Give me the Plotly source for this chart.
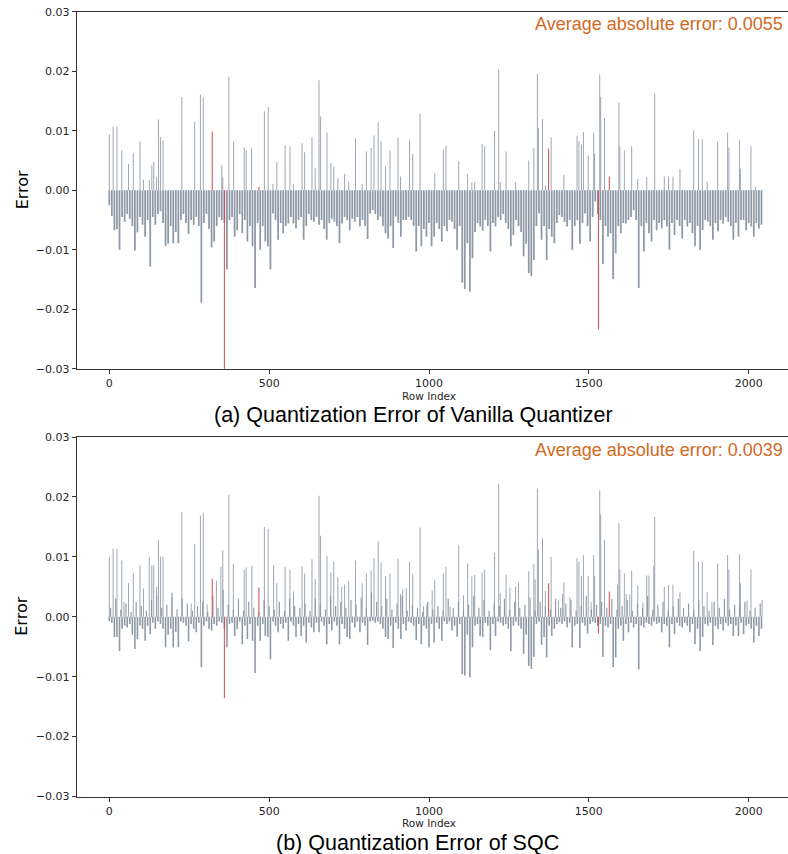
import numpy as np
import plotly.graph_objects as go

# ---------------- data ----------------
GRID_STEP = 8  # base bars every 8 rows

# (a) Vanilla quantizer: dense negative base, one value every 8 rows (0..2040)
vanilla_base = [
    -0.0025, -0.0043, -0.0067, -0.0065, -0.0100, -0.0045, -0.0053, -0.0040, -0.0048, -0.0060, -0.0101, -0.0071, -0.0045, -0.0058, -0.0078, -0.0050,
    -0.0128, -0.0045, -0.0058, -0.0040, -0.0035, -0.0055, -0.0094, -0.0090, -0.0060, -0.0089, -0.0070, -0.0089, -0.0050, -0.0040, -0.0055, -0.0073,
    -0.0050, -0.0058, -0.0045, -0.0060, -0.0189, -0.0055, -0.0040, -0.0065, -0.0096, -0.0086, -0.0060, -0.0045, -0.0050, -0.0055, -0.0133, -0.0050,
    -0.0045, -0.0078, -0.0067, -0.0040, -0.0072, -0.0050, -0.0086, -0.0060, -0.0094, -0.0164, -0.0055, -0.0100, -0.0060, -0.0086, -0.0094, -0.0133,
    -0.0039, -0.0050, -0.0083, -0.0055, -0.0072, -0.0060, -0.0056, -0.0045, -0.0056, -0.0064, -0.0050, -0.0045, -0.0083, -0.0060, -0.0040, -0.0050,
    -0.0053, -0.0045, -0.0058, -0.0050, -0.0065, -0.0083, -0.0055, -0.0048, -0.0053, -0.0060, -0.0089, -0.0056, -0.0045, -0.0050, -0.0067, -0.0048,
    -0.0053, -0.0045, -0.0061, -0.0050, -0.0060, -0.0082, -0.0039, -0.0033, -0.0040, -0.0050, -0.0044, -0.0060, -0.0072, -0.0081, -0.0060, -0.0097,
    -0.0044, -0.0055, -0.0078, -0.0050, -0.0050, -0.0045, -0.0050, -0.0060, -0.0103, -0.0060, -0.0094, -0.0065, -0.0078, -0.0055, -0.0094, -0.0078,
    -0.0055, -0.0065, -0.0086, -0.0060, -0.0069, -0.0050, -0.0053, -0.0065, -0.0100, -0.0060, -0.0155, -0.0166, -0.0089, -0.0170, -0.0114, -0.0070,
    -0.0055, -0.0061, -0.0068, -0.0050, -0.0060, -0.0103, -0.0055, -0.0061, -0.0045, -0.0050, -0.0040, -0.0055, -0.0065, -0.0094, -0.0075, -0.0050,
    -0.0060, -0.0070, -0.0111, -0.0090, -0.0139, -0.0144, -0.0117, -0.0060, -0.0039, -0.0083, -0.0060, -0.0117, -0.0065, -0.0078, -0.0089, -0.0055,
    -0.0042, -0.0045, -0.0053, -0.0061, -0.0050, -0.0100, -0.0060, -0.0050, -0.0090, -0.0055, -0.0039, -0.0060, -0.0086, -0.0045, -0.0019, -0.0040,
    -0.0050, -0.0124, -0.0060, -0.0078, -0.0072, -0.0149, -0.0106, -0.0060, -0.0072, -0.0055, -0.0056, -0.0050, -0.0045, -0.0033, -0.0050, -0.0164,
    -0.0060, -0.0103, -0.0055, -0.0072, -0.0086, -0.0050, -0.0067, -0.0055, -0.0064, -0.0050, -0.0061, -0.0100, -0.0055, -0.0075, -0.0050, -0.0060,
    -0.0081, -0.0050, -0.0061, -0.0055, -0.0072, -0.0094, -0.0060, -0.0100, -0.0067, -0.0050, -0.0053, -0.0060, -0.0083, -0.0055, -0.0069, -0.0050,
    -0.0056, -0.0045, -0.0053, -0.0060, -0.0083, -0.0055, -0.0078, -0.0050, -0.0050, -0.0067, -0.0055, -0.0061, -0.0078, -0.0055, -0.0064, -0.0058,
]

vanilla_spike_idx = [
    0, 12, 24, 39, 60, 75, 96, 107, 125, 133, 139, 148, 154, 160, 168, 227, 267, 285, 294, 352, 355, 374, 389, 422, 428, 445,
    485, 497, 512, 524, 550, 565, 576, 603, 611, 634, 644, 656, 661, 681, 693, 702, 715, 736, 749, 770, 791, 804, 819, 828,
    841, 850, 864, 878, 903, 911, 939, 949, 972, 1018, 1045, 1053, 1093, 1121, 1134, 1143, 1166, 1174, 1205, 1218, 1223, 1241,
    1271, 1312, 1328, 1339, 1342, 1355, 1364, 1382, 1422, 1463, 1469, 1477, 1483, 1498, 1515, 1518, 1534, 1537, 1549, 1594,
    1597, 1611, 1634, 1653, 1681, 1706, 1736, 1749, 1763, 1785, 1828, 1843, 1855, 1870, 1903, 1934, 1938, 1971, 1974, 2007, 2021,
]
vanilla_spike_val = [
    0.0094, 0.0107, 0.0107, 0.0067, 0.0044, 0.0063, 0.0082, 0.0018, 0.0017, 0.0043, 0.0048, 0.0022, 0.0119, 0.0089, 0.0084, 0.0157, 0.0115, 0.0161, 0.0156, 0.0042, 0.0022, 0.0191, 0.0082, 0.0072, 0.0067, 0.0071,
    0.0133, 0.0140, 0.0011, 0.0047, 0.0076, 0.0074, 0.0011, 0.0079, 0.0064, 0.0089, 0.0037, 0.0185, 0.0124, 0.0097, 0.0046, 0.0040, 0.0020, 0.0028, 0.0014, 0.0087, 0.0010, 0.0065, 0.0071, 0.0092,
    0.0114, 0.0083, 0.0040, 0.0067, 0.0089, 0.0023, 0.0085, 0.0061, 0.0129, 0.0029, 0.0068, 0.0075, 0.0049, 0.0028, 0.0014, 0.0014, 0.0078, 0.0074, 0.0100, 0.0204, 0.0014, 0.0065,
    0.0014, 0.0050, 0.0071, 0.0195, 0.0105, 0.0120, 0.0008, 0.0089, 0.0026, 0.0092, 0.0083, 0.0077, 0.0098, 0.0059, 0.0097, 0.0061, 0.0194, 0.0157, 0.0121, 0.0148,
    0.0074, 0.0067, 0.0074, 0.0019, 0.0022, 0.0163, 0.0023, 0.0023, 0.0023, 0.0036, 0.0101, 0.0086, 0.0086, 0.0014, 0.0082, 0.0097, 0.0072, 0.0085, 0.0036, 0.0074, 0.0006,
]

highlight_idx = [322, 360, 468, 1374, 1530, 1564]
vanilla_highlight_val = [0.0099, -0.0360, 0.0006, 0.0070, -0.0234, 0.0023]

# (b) SQC: small negative base every 8 rows, small positives every 16 rows (from row 4), spikes
sqc_base = [
    -0.0007, -0.0010, -0.0034, -0.0034, -0.0057, -0.0020, -0.0015, -0.0018, -0.0012, -0.0030, -0.0054, -0.0037, -0.0015, -0.0020, -0.0040, -0.0015,
    -0.0029, -0.0010, -0.0020, -0.0008, -0.0012, -0.0020, -0.0051, -0.0030, -0.0020, -0.0051, -0.0025, -0.0051, -0.0008, -0.0010, -0.0015, -0.0041,
    -0.0012, -0.0020, -0.0026, -0.0010, -0.0084, -0.0015, -0.0008, -0.0020, -0.0023, -0.0012, -0.0015, -0.0008, -0.0010, -0.0020, -0.0051, -0.0012,
    -0.0010, -0.0032, -0.0021, -0.0008, -0.0046, -0.0015, -0.0037, -0.0012, -0.0040, -0.0094, -0.0015, -0.0040, -0.0012, -0.0032, -0.0034, -0.0071,
    -0.0008, -0.0015, -0.0026, -0.0012, -0.0020, -0.0010, -0.0040, -0.0008, -0.0015, -0.0034, -0.0012, -0.0032, -0.0015, -0.0043, -0.0010, -0.0018,
    -0.0026, -0.0010, -0.0026, -0.0008, -0.0015, -0.0046, -0.0012, -0.0023, -0.0008, -0.0015, -0.0046, -0.0012, -0.0020, -0.0034, -0.0037, -0.0010,
    -0.0018, -0.0008, -0.0026, -0.0010, -0.0015, -0.0047, -0.0008, -0.0007, -0.0010, -0.0008, -0.0012, -0.0020, -0.0034, -0.0037, -0.0015, -0.0052,
    -0.0010, -0.0020, -0.0037, -0.0012, -0.0023, -0.0008, -0.0010, -0.0015, -0.0039, -0.0012, -0.0046, -0.0015, -0.0020, -0.0051, -0.0012, -0.0043,
    -0.0010, -0.0020, -0.0040, -0.0008, -0.0012, -0.0008, -0.0023, -0.0015, -0.0034, -0.0012, -0.0096, -0.0098, -0.0030, -0.0101, -0.0051, -0.0015,
    -0.0012, -0.0032, -0.0034, -0.0010, -0.0015, -0.0056, -0.0012, -0.0032, -0.0008, -0.0010, -0.0015, -0.0012, -0.0020, -0.0057, -0.0015, -0.0008,
    -0.0015, -0.0020, -0.0062, -0.0030, -0.0082, -0.0087, -0.0067, -0.0012, -0.0008, -0.0047, -0.0034, -0.0068, -0.0015, -0.0032, -0.0020, -0.0012,
    -0.0009, -0.0012, -0.0008, -0.0018, -0.0010, -0.0051, -0.0015, -0.0012, -0.0052, -0.0010, -0.0015, -0.0028, -0.0012, -0.0008, -0.0010, -0.0015,
    -0.0012, -0.0067, -0.0015, -0.0018, -0.0012, -0.0084, -0.0068, -0.0020, -0.0015, -0.0040, -0.0012, -0.0026, -0.0010, -0.0018, -0.0012, -0.0088,
    -0.0015, -0.0018, -0.0010, -0.0012, -0.0015, -0.0008, -0.0012, -0.0010, -0.0026, -0.0012, -0.0015, -0.0051, -0.0012, -0.0029, -0.0010, -0.0015,
    -0.0018, -0.0010, -0.0015, -0.0026, -0.0012, -0.0046, -0.0020, -0.0057, -0.0034, -0.0012, -0.0015, -0.0010, -0.0047, -0.0015, -0.0021, -0.0012,
    -0.0023, -0.0010, -0.0015, -0.0012, -0.0032, -0.0015, -0.0032, -0.0010, -0.0029, -0.0015, -0.0012, -0.0020, -0.0043, -0.0015, -0.0032, -0.0020,
]

SMALL_STEP = 16
SMALL_OFFSET = 4
sqc_small_pos = [
    0.0015, 0.0030, 0.0012, 0.0022, 0.0008, 0.0025, 0.0018, 0.0010, 0.0028, 0.0035, 0.0015, 0.0020, 0.0040, 0.0012, 0.0030, 0.0022,
    0.0010, 0.0018, 0.0025, 0.0008, 0.0035, 0.0015, 0.0045, 0.0020, 0.0012, 0.0030, 0.0010, 0.0025, 0.0015, 0.0008, 0.0028, 0.0018,
    0.0012, 0.0025, 0.0010, 0.0030, 0.0018, 0.0015, 0.0022, 0.0010, 0.0030, 0.0020, 0.0012, 0.0035, 0.0018, 0.0025, 0.0015, 0.0028,
    0.0020, 0.0032, 0.0015, 0.0040, 0.0025, 0.0018, 0.0030, 0.0012, 0.0022, 0.0035, 0.0010, 0.0020, 0.0015, 0.0008, 0.0025, 0.0012,
    0.0018, 0.0010, 0.0030, 0.0015, 0.0025, 0.0012, 0.0020, 0.0035, 0.0015, 0.0028, 0.0010, 0.0022, 0.0018, 0.0030, 0.0012, 0.0025,
    0.0015, 0.0020, 0.0032, 0.0010, 0.0025, 0.0018, 0.0012, 0.0030, 0.0015, 0.0022, 0.0028, 0.0010, 0.0018, 0.0035, 0.0012, 0.0020,
    0.0025, 0.0015, 0.0030, 0.0012, 0.0018, 0.0028, 0.0010, 0.0022, 0.0015, 0.0035, 0.0012, 0.0020, 0.0025, 0.0010, 0.0018, 0.0030,
    0.0015, 0.0022, 0.0012, 0.0028, 0.0018, 0.0010, 0.0025, 0.0015, 0.0030, 0.0012, 0.0020, 0.0018, 0.0025, 0.0010, 0.0015, 0.0022,
]

sqc_spike_idx = [
    0, 12, 24, 39, 46, 60, 75, 96, 107, 125, 133, 139, 148, 154, 160, 168, 196, 227, 256, 267, 285, 294, 306, 335, 349, 355,
    374, 388, 422, 428, 446, 485, 497, 514, 524, 550, 565, 576, 603, 611, 634, 644, 656, 661, 681, 693, 702, 715, 727, 736,
    749, 770, 791, 804, 819, 828, 841, 850, 864, 878, 903, 911, 918, 929, 939, 949, 972, 983, 993, 1010, 1018, 1045, 1053,
    1066, 1093, 1108, 1121, 1134, 1143, 1166, 1174, 1205, 1218, 1223, 1241, 1253, 1271, 1280, 1312, 1328, 1332, 1339, 1342,
    1355, 1364, 1382, 1405, 1418, 1422, 1441, 1463, 1469, 1477, 1483, 1498, 1507, 1515, 1518, 1534, 1537, 1549, 1590, 1594,
    1597, 1611, 1617, 1628, 1634, 1653, 1669, 1681, 1688, 1703, 1706, 1736, 1749, 1763, 1785, 1828, 1843, 1855, 1870, 1885,
    1903, 1934, 1938, 1971, 1974, 1995, 2007, 2042,
]
sqc_spike_val = [
    0.0100, 0.0114, 0.0114, 0.0094, 0.0025, 0.0056, 0.0073, 0.0086, 0.0047, 0.0100, 0.0086, 0.0086, 0.0050, 0.0128, 0.0100, 0.0100, 0.0032, 0.0175, 0.0022, 0.0121, 0.0169, 0.0174, 0.0021, 0.0060, 0.0083, 0.0111,
    0.0203, 0.0088, 0.0078, 0.0082, 0.0085, 0.0150, 0.0147, 0.0086, 0.0056, 0.0083, 0.0079, 0.0042, 0.0084, 0.0072, 0.0096, 0.0063, 0.0202, 0.0135, 0.0101, 0.0074, 0.0092, 0.0066, 0.0050, 0.0054,
    0.0060, 0.0094, 0.0056, 0.0072, 0.0077, 0.0098, 0.0126, 0.0091, 0.0068, 0.0072, 0.0097, 0.0038, 0.0046, 0.0047, 0.0092, 0.0071, 0.0149, 0.0018, 0.0020, 0.0044, 0.0062, 0.0072, 0.0083,
    0.0017, 0.0119, 0.0036, 0.0089, 0.0067, 0.0070, 0.0074, 0.0079, 0.0107, 0.0222, 0.0039, 0.0070, 0.0049, 0.0050, 0.0057, 0.0076, 0.0088, 0.0062, 0.0214, 0.0112,
    0.0131, 0.0043, 0.0100, 0.0027, 0.0038, 0.0058, 0.0032, 0.0098, 0.0092, 0.0068, 0.0103, 0.0068, 0.0024, 0.0103, 0.0068, 0.0211, 0.0171, 0.0129, 0.0054, 0.0156,
    0.0079, 0.0072, 0.0038, 0.0037, 0.0077, 0.0052, 0.0024, 0.0069, 0.0069, 0.0085, 0.0167, 0.0050, 0.0053, 0.0054, 0.0041, 0.0110, 0.0092, 0.0092, 0.0041, 0.0024,
    0.0089, 0.0103, 0.0079, 0.0104, 0.0056, 0.0027, 0.0079, 0.0028,
]
sqc_highlight_val = [0.0064, -0.0136, 0.0049, 0.0056, -0.0028, 0.0042]

titles = ["(a) Quantization Error of Vanilla Quantizer", "(b) Quantization Error of SQC"]
avg_labels = ["Average absolute error: 0.0055", "Average absolute error: 0.0039"]
x_ticks = [0, 500, 1000, 1500, 2000]
y_ticks = [-0.03, -0.02, -0.01, 0.0, 0.01, 0.02, 0.03]

# ---------------- figure ----------------
W, H = 788, 854
BAR_COL = "rgba(132,145,160,0.93)"
SPIKE_COL = "rgba(140,151,165,0.88)"
RED_COL = "rgba(214,70,70,0.95)"

base_x = np.arange(len(vanilla_base)) * GRID_STEP
small_x = np.arange(len(sqc_small_pos)) * SMALL_STEP + SMALL_OFFSET

fig = go.Figure()

def add_bars(xs, ys, col, wid, ax):
    fig.add_trace(go.Bar(x=list(xs), y=list(ys), width=wid,
                         marker=dict(color=col, line=dict(width=0)),
                         xaxis="x" + ax, yaxis="y" + ax, hoverinfo="skip",
                         showlegend=False))

add_bars(base_x, vanilla_base, BAR_COL, 5.5, "")
add_bars(vanilla_spike_idx, vanilla_spike_val, SPIKE_COL, 3.0, "")
add_bars(highlight_idx, vanilla_highlight_val, RED_COL, 3.2, "")

add_bars(base_x, sqc_base, BAR_COL, 5.0, "2")
add_bars(small_x, sqc_small_pos, BAR_COL, 3.6, "2")
add_bars(sqc_spike_idx, sqc_spike_val, SPIKE_COL, 3.0, "2")
add_bars(highlight_idx, sqc_highlight_val, RED_COL, 3.2, "2")

# geometry in pixels
x0_px, px_per_idx, zero_idx_px = 76.7, 0.3197, 109.3
x_left = (x0_px - zero_idx_px) / px_per_idx
x_right = (W - zero_idx_px) / px_per_idx
panels = [(11.8, 368.8), (437.0, 796.5)]

def py(px):
    return 1 - px / H

axis_common = dict(showline=True, linecolor="#333333", linewidth=1, ticks="outside",
                   ticklen=4, tickwidth=1, tickcolor="#333333", showgrid=False, zeroline=False,
                   automargin=False,
                   tickfont=dict(family="DejaVu Sans", size=11, color="#262626"))

layout = dict(width=W, height=H, margin=dict(l=0, r=0, t=0, b=0, pad=0, autoexpand=False),
              paper_bgcolor="white", plot_bgcolor="white", barmode="overlay",
              bargap=0.2, showlegend=False)

for i, (top, bot) in enumerate(panels):
    sfx = "" if i == 0 else "2"
    layout["xaxis" + sfx] = dict(axis_common, domain=[x0_px / W, 1.0], range=[x_left, x_right],
                                 tickvals=x_ticks, mirror=True, anchor="y" + sfx)
    layout["yaxis" + sfx] = dict(axis_common, domain=[py(bot), py(top)], range=[-0.03, 0.03],
                                 tickvals=y_ticks, tickformat=".2f", anchor="x" + sfx)

fig.update_layout(**layout)

ann = []
for i, (top, bot) in enumerate(panels):
    mid = (top + bot) / 2
    ann.append(dict(text="Error", x=22 / W, y=py(mid), xref="paper", yref="paper",
                    textangle=-90, showarrow=False, xanchor="center", yanchor="middle",
                    font=dict(family="DejaVu Sans", size=16, color="black")))
    ann.append(dict(text="Row Index", x=429 / W, y=py(bot + 26.7), xref="paper", yref="paper",
                    showarrow=False, xanchor="center", yanchor="middle",
                    font=dict(family="DejaVu Sans", size=10.5, color="#262626")))
    ann.append(dict(text=titles[i], x=(413.5 if i == 0 else 417.5) / W, y=py(bot + 46.0),
                    xref="paper", yref="paper", showarrow=False, xanchor="center", yanchor="middle",
                    font=dict(family="Liberation Sans, Arial", size=21.5, color="black")))
    ann.append(dict(text=avg_labels[i], x=785 / W, y=py(top + 12.5), xref="paper", yref="paper",
                    showarrow=False, xanchor="right", yanchor="middle",
                    font=dict(family="Liberation Sans, Arial", size=18, color="#d2691e")))
fig.update_layout(annotations=ann)

fig.write_html("out.html")
